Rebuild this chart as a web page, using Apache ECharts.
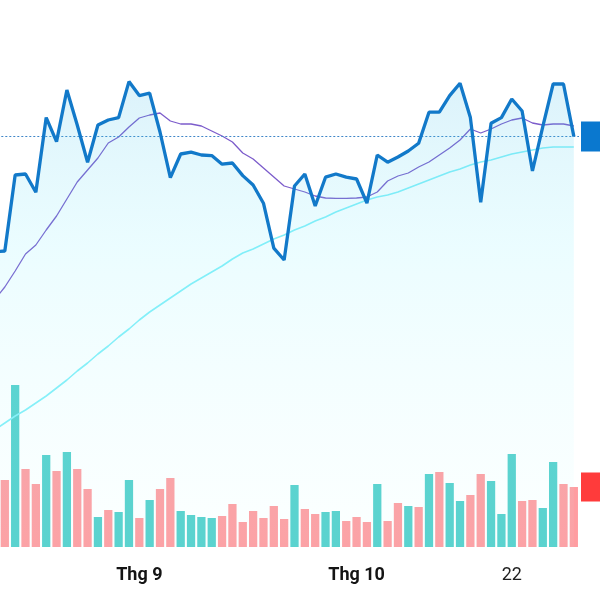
<!DOCTYPE html>
<html><head><meta charset="utf-8">
<script src="https://cdn.jsdelivr.net/npm/echarts@6/dist/echarts.min.js"></script>
<style>html,body{margin:0;padding:0;background:#fff}#c{width:600px;height:600px}</style>
</head><body><div id="c"></div>
<script>
const dates = ['2025-08-12','2025-08-13','2025-08-14','2025-08-15','2025-08-18','2025-08-19','2025-08-20','2025-08-21','2025-08-22','2025-08-25','2025-08-26','2025-08-27','2025-08-28','2025-08-29',
'2025-09-02','2025-09-03','2025-09-04','2025-09-05','2025-09-08','2025-09-09','2025-09-10','2025-09-11','2025-09-12','2025-09-15','2025-09-16','2025-09-17','2025-09-18','2025-09-19','2025-09-22','2025-09-23','2025-09-24','2025-09-25','2025-09-26','2025-09-29','2025-09-30',
'2025-10-01','2025-10-02','2025-10-03','2025-10-06','2025-10-07','2025-10-08','2025-10-09','2025-10-10','2025-10-13','2025-10-14','2025-10-15','2025-10-16','2025-10-17','2025-10-20','2025-10-21','2025-10-22','2025-10-23','2025-10-24','2025-10-27','2025-10-28','2025-10-29','2025-10-30'];

const price = [27.40,27.45,31.25,31.30,30.39,34.12,32.92,35.50,33.75,31.89,33.75,34.00,34.12,35.92,35.22,35.34,33.40,31.12,32.30,32.39,32.25,32.22,31.79,31.85,31.22,30.75,29.84,27.59,27.00,30.70,31.30,29.70,31.14,31.30,31.14,31.05,29.84,32.25,31.89,32.15,32.45,32.84,34.39,34.39,35.22,35.84,34.12,29.89,33.84,34.12,35.05,34.45,31.45,33.67,35.80,35.80,33.18];

const ma20 = [25.00,25.65,26.45,27.30,27.75,28.50,29.20,30.05,30.90,31.50,32.10,32.85,33.15,33.65,34.10,34.25,34.35,33.95,33.80,33.80,33.70,33.45,33.20,32.90,32.35,32.05,31.60,31.15,30.70,30.55,30.40,30.20,30.10,30.08,30.08,30.10,30.15,30.40,30.95,31.20,31.35,31.65,31.90,32.25,32.60,33.00,33.55,33.35,33.55,33.80,34.00,34.10,33.85,33.75,33.80,33.80,33.70];

const ma50 = [18.50,18.85,19.20,19.50,19.85,20.20,20.60,21.00,21.45,21.85,22.30,22.70,23.15,23.55,24.00,24.40,24.75,25.10,25.45,25.80,26.10,26.40,26.70,27.05,27.35,27.55,27.80,28.05,28.25,28.50,28.70,28.95,29.15,29.40,29.60,29.80,30.00,30.15,30.25,30.40,30.60,30.80,31.00,31.20,31.40,31.55,31.75,31.90,32.00,32.15,32.30,32.40,32.50,32.60,32.65,32.65,32.65];

const volume = [null,670000,1620000,780000,630000,920000,760000,950000,780000,580000,300000,370000,350000,670000,290000,470000,580000,690000,360000,320000,300000,290000,310000,430000,250000,360000,290000,410000,280000,620000,380000,330000,350000,360000,260000,300000,250000,630000,260000,440000,410000,400000,730000,750000,640000,460000,520000,730000,660000,330000,930000,460000,470000,390000,850000,630000,600000];

const volumeUp = [0,0,1,0,0,1,0,1,0,0,1,0,1,1,0,1,0,0,1,1,1,1,0,0,0,0,0,0,0,1,0,0,1,1,0,0,0,1,0,0,1,0,1,0,1,1,0,0,1,1,1,0,0,1,1,0,0];

const tickDates = ['2025-09-02','2025-10-01','2025-10-22'];
const tickTexts = ['Thg 9','Thg 10','22'];
const tickBold = [true,true,false];

const UP = '#55d0cc', DOWN = '#ff9da1';
const lastPrice = price[price.length-1];
const lastVol = volume[volume.length-1];
const gridLeft = -10.7, gridRight = 21;

const chart = echarts.init(document.getElementById('c'));
chart.setOption({
  animation:false,
  backgroundColor:'#fff',
  grid:[
    {left:gridLeft,right:gridRight,top:0,bottom:53,outerBoundsMode:'none',containLabel:false},
    {left:gridLeft,right:gridRight,top:347,bottom:53,outerBoundsMode:'none',containLabel:false}
  ],
  xAxis:[
    {type:'category',gridIndex:0,data:dates,boundaryGap:true,show:false},
    {type:'category',gridIndex:1,data:dates,boundaryGap:true,
     axisLine:{show:false},axisTick:{show:false},splitLine:{show:false},
     axisLabel:{
       interval:(idx,val)=>tickDates.indexOf(val)>=0,
       hideOverlap:false,
       margin:19,
       formatter:(val)=>{const k=tickDates.indexOf(val); if(k<0) return ''; return (tickBold[k]?'{b|':'{n|')+tickTexts[k]+'}';},
       rich:{
         b:{fontWeight:'bold',fontSize:18,fontFamily:'Roboto',color:'#141414'},
         n:{fontWeight:'normal',fontSize:18,fontFamily:'Roboto',color:'#222'}
       }
     }}
  ],
  yAxis:[
    {type:'value',gridIndex:0,min:12.65,max:40,show:false,splitLine:{show:false}},
    {type:'value',gridIndex:1,min:0,max:2000000,show:false,splitLine:{show:false}}
  ],
  series:[
    {type:'bar',xAxisIndex:1,yAxisIndex:1,z:1,barCategoryGap:'20%',
     data:volume.map((v,i)=>({value:v,itemStyle:{color:volumeUp[i]?UP:DOWN}})),
     markLine:{silent:true,symbol:['none','none'],
       lineStyle:{color:'rgba(0,0,0,0)',width:1,type:'solid'},
       data:[{yAxis:lastVol}],
       label:{show:true,position:'end',distance:2,backgroundColor:'#ff3b3b',color:'#fff',
              padding:[7.5,8,7.5,22],lineHeight:14,fontSize:12,formatter:()=>String(lastVol)}}
    },
    {type:'line',xAxisIndex:0,yAxisIndex:0,z:3,data:ma50,symbol:'none',
     lineStyle:{color:'#84eff8',width:1.6}},
    {type:'line',xAxisIndex:0,yAxisIndex:0,z:4,data:ma20,symbol:'none',
     lineStyle:{color:'#7c5ccb',width:1.3}},
    {type:'line',xAxisIndex:0,yAxisIndex:0,z:5,data:price,symbol:'none',
     lineStyle:{color:'#1279c9',width:3.3},
     areaStyle:{color:new echarts.graphic.LinearGradient(0,0,0,1,[
       {offset:0,color:'rgba(60,185,230,0.26)'},
       {offset:0.35,color:'rgba(110,238,255,0.2)'},
       {offset:1,color:'rgba(190,255,255,0.08)'}])},
     markLine:{silent:true,symbol:['none','none'],
       lineStyle:{type:[2,2],color:'#3f86c8',width:1},
       data:[{yAxis:lastPrice}],
       label:{show:true,position:'end',distance:2,backgroundColor:'#0a78cf',color:'#fff',
              padding:[8,8,8,22],lineHeight:14,fontSize:12,formatter:()=>lastPrice.toFixed(2)}}
    }
  ]
});
</script></body></html>
